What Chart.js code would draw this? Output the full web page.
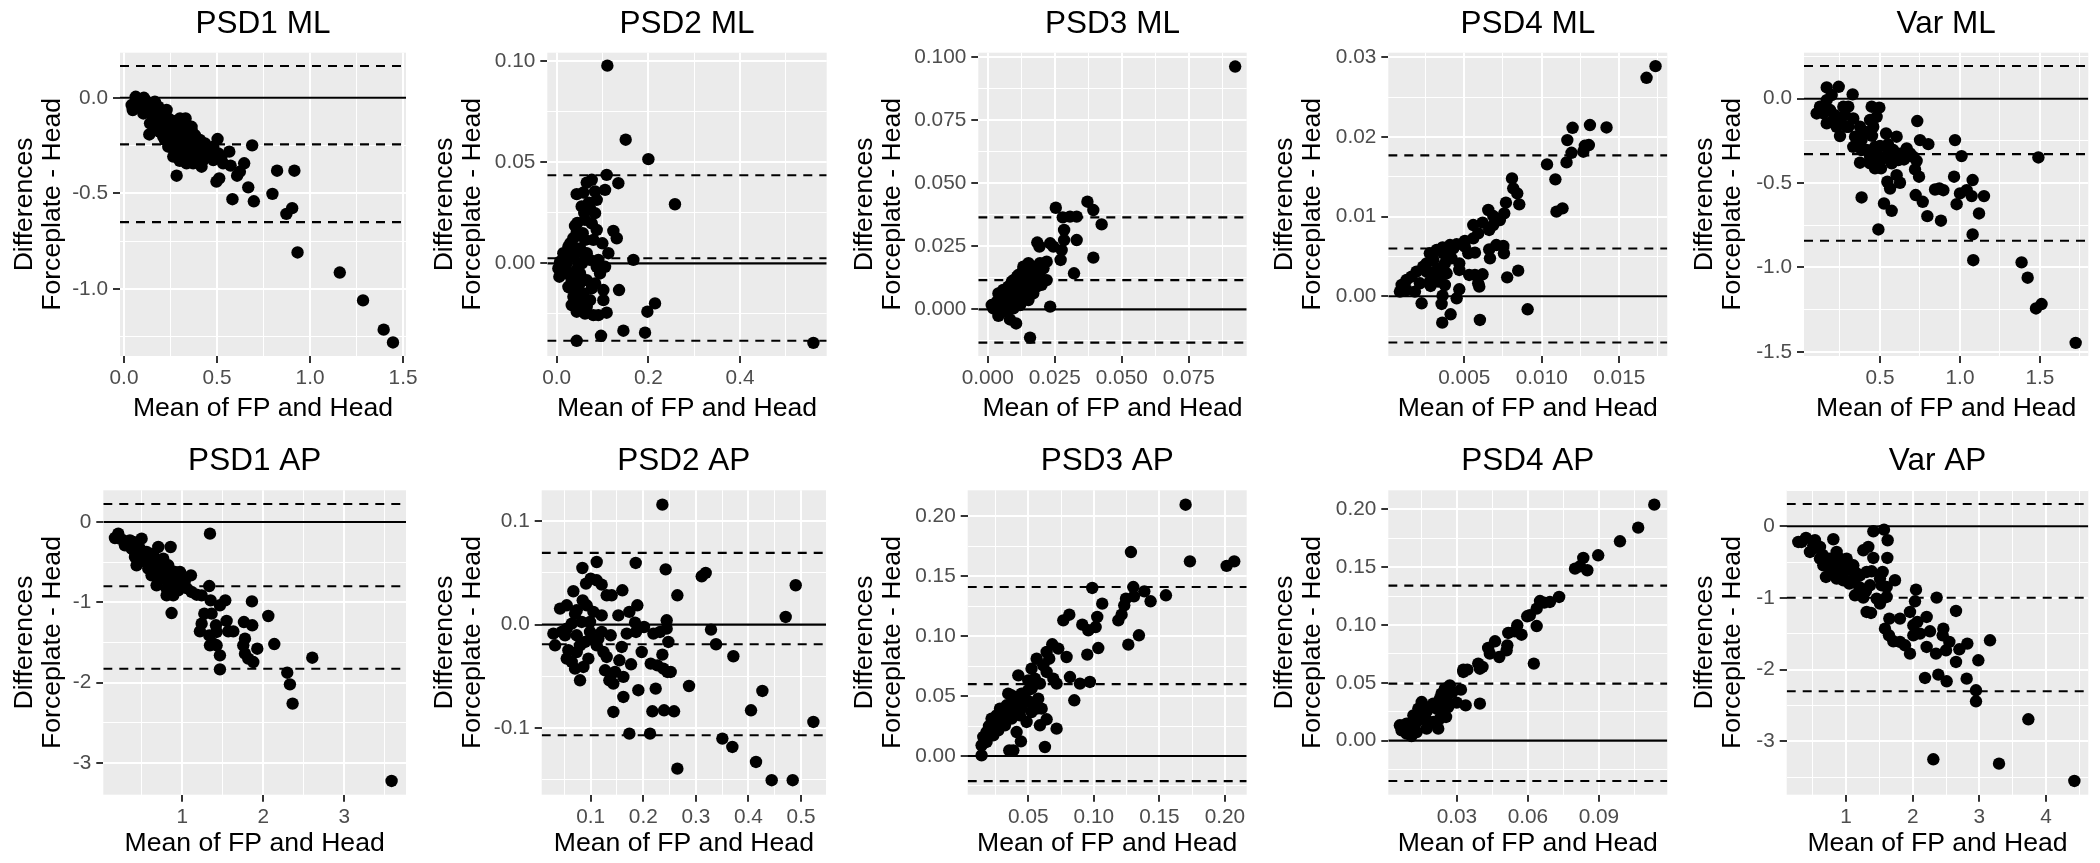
<!DOCTYPE html>
<html>
<head>
<meta charset="utf-8">
<script src="https://cdn.jsdelivr.net/npm/chart.js@4.4.0/dist/chart.umd.min.js"></script>
<style>
  body { margin: 0; background: #fff; width: 2100px; height: 863px; position: relative; overflow: hidden; }
  canvas { position: absolute; }
</style>
</head>
<body>
<script>
// ---- data: [mean of FP and Head, difference Forceplate - Head] ----
const psd1Ml = [[0.063,0.005],[0.107,0.000],[0.166,-0.021],[0.047,-0.064],[0.086,-0.047],[0.122,-0.064],[0.077,-0.021],[0.122,-0.021],[0.149,-0.056],[0.193,-0.091],[0.229,-0.064],[0.175,-0.117],[0.140,-0.134],[0.211,-0.125],[0.247,-0.152],[0.265,-0.178],[0.220,-0.221],[0.301,-0.108],[0.331,-0.108],[0.336,-0.160],[0.363,-0.169],[0.310,-0.195],[0.283,-0.221],[0.265,-0.308],[0.336,-0.256],[0.372,-0.221],[0.390,-0.256],[0.408,-0.291],[0.426,-0.326],[0.417,-0.361],[0.372,-0.343],[0.336,-0.343],[0.453,-0.274],[0.480,-0.256],[0.507,-0.291],[0.390,-0.308],[0.310,-0.308],[0.301,-0.282],[0.247,-0.256],[0.229,-0.186],[0.175,-0.169],[0.149,-0.091],[0.104,-0.082],[0.202,-0.073],[0.238,-0.108],[0.274,-0.143],[0.310,-0.160],[0.345,-0.195],[0.381,-0.195],[0.408,-0.221],[0.435,-0.239],[0.462,-0.300],[0.354,-0.291],[0.319,-0.256],[0.265,-0.239],[0.211,-0.204],[0.193,-0.178],[0.175,-0.143],[0.363,-0.152],[0.238,-0.256],[0.041,-0.038],[0.095,-0.038],[0.158,-0.082],[0.184,-0.047],[0.444,-0.308],[0.480,-0.326],[0.533,-0.343],[0.524,-0.308],[0.283,-0.256],[0.328,-0.221],[0.399,-0.274],[0.13,-0.03],[0.16,-0.05],[0.19,-0.10],[0.22,-0.14],[0.25,-0.18],[0.28,-0.19],[0.32,-0.23],[0.35,-0.24],[0.39,-0.23],[0.42,-0.26],[0.30,-0.33],[0.37,-0.29],[0.26,-0.12],[0.18,-0.08],[1.446,-1.281],[1.396,-1.214],[1.285,-1.061],[1.160,-0.915],[0.933,-0.810],[0.873,-0.608],[0.904,-0.578],[0.798,-0.503],[0.823,-0.382],[0.916,-0.382],[0.698,-0.542],[0.668,-0.469],[0.689,-0.249],[0.583,-0.531],[0.608,-0.408],[0.623,-0.387],[0.646,-0.343],[0.573,-0.355],[0.566,-0.282],[0.512,-0.422],[0.497,-0.439],[0.503,-0.216],[0.283,-0.408],[0.136,-0.192]];
const psd2Ml = [[0.1105,0.0977],[0.1505,0.0611],[0.200,0.0515],[0.258,0.0292],[0.560,-0.0393],[0.0436,-0.0383],[0.0967,-0.0358],[0.1455,-0.0333],[0.1927,-0.0343],[0.2145,-0.0198],[0.1978,-0.0239],[0.1673,0.0017],[0.136,-0.0132],[0.109,0.0437],[0.1345,0.0396],[0.1055,0.0363],[0.1236,0.016],[0.131,0.0124],[0.0996,0.0099],[0.1127,0.005],[0.1055,-0.0017],[0.1018,-0.0132],[0.1018,-0.0182],[0.109,-0.0244],[0.0909,-0.0256],[0.0655,0.0399],[0.0764,0.0413],[0.0436,0.0342],[0.0582,0.035],[0.0836,0.0355],[0.0873,0.0314],[0.0545,0.0281],[0.0727,0.0272],[0.0836,0.0248],[0.0618,0.0215],[0.04,0.0185],[0.0764,0.0198],[0.0873,0.0165],[0.0436,0.0149],[0.0618,0.0116],[0.0364,0.0124],[0.0255,0.0083],[0.0509,0.0074],[0.0655,0.005],[0.0145,0.005],[0.0073,0.0008],[0.0218,0],[0.0364,0.0033],[0.0473,0],[0.0727,0.0017],[0.0873,-0.0017],[0.0036,-0.0025],[0.0058,-0.0066],[0.0218,-0.005],[0.0327,-0.0083],[0.0509,-0.005],[0.0655,-0.0083],[0.0436,-0.0116],[0.0582,-0.0149],[0.0764,-0.0124],[0.0364,-0.0165],[0.0327,-0.0206],[0.0509,-0.0198],[0.0655,-0.0215],[0.0436,-0.0239],[0.0618,-0.0248],[0.08,-0.0256],[0.0545,-0.0165],[0.0255,0.0033],[0.0378,0.0074],[0.0567,0.0149],[0.08,0.0116],[0.0909,0.0017],[0.0436,-0.0033],[0.0145,-0.0017],[0.0582,0.005],[0.0727,-0.0182],[0.0255,-0.0116],[0.0836,-0.0099],[0.0945,-0.005],[0.03,0.01],[0.035,-0.005],[0.045,0.02],[0.05,-0.01],[0.04,-0.02],[0.06,0.025],[0.07,0.03],[0.028,-0.012],[0.055,0.0]];
const psd3Ml = [[0.0923,0.0963],[0.0372,0.0427],[0.0394,0.0394],[0.0425,0.0337],[0.0254,0.0403],[0.0332,0.0368],[0.0307,0.0368],[0.0280,0.0365],[0.0285,0.0315],[0.0332,0.0275],[0.0285,0.0275],[0.0276,0.0235],[0.0394,0.0205],[0.0322,0.0143],[0.0233,0.0011],[0.0272,0.0196],[0.0185,0.0265],[0.0193,0.0249],[0.0233,0.0262],[0.0245,0.0249],[0.0158,-0.0112],[0.0106,-0.0056],[0.0083,-0.004],[0.004,-0.0026],[0.0015,0.0017],[0.0034,0.003],[0.0052,0.0044],[0.0071,0.0063],[0.009,0.0083],[0.0108,0.0103],[0.0127,0.0123],[0.0146,0.0143],[0.0164,0.0169],[0.0195,0.0183],[0.022,0.0189],[0.0183,0.0156],[0.0208,0.0163],[0.0058,0.0011],[0.0083,0.003],[0.0102,0.0044],[0.0121,0.0057],[0.0146,0.0063],[0.017,0.0063],[0.0152,0.0037],[0.0121,0.0017],[0.0096,0.0004],[0.0071,-0.0009],[0.0046,-0.0003],[0.0021,0.0004],[0.0077,0.009],[0.0058,0.0077],[0.0096,0.0116],[0.0114,0.0136],[0.0139,0.009],[0.0164,0.0103],[0.0195,0.013],[0.0201,0.0097],[0.017,0.013],[0.0133,0.0169],[0.0152,0.0183],[0.0108,0.007],[0.0127,0.009],[0.009,0.005],[0.0065,0.003],[0.004,0.0063],[0.0133,0.0037],[0.0183,0.009],[0.022,0.0116],[0.006,0.005],[0.008,0.006],[0.010,0.008],[0.012,0.010],[0.014,0.012],[0.011,0.013],[0.009,0.011],[0.013,0.015],[0.016,0.014],[0.007,0.008]];
const psd4Ml = [[0.01734,0.02891],[0.01676,0.02745],[0.01418,0.02121],[0.01311,0.02151],[0.01199,0.02117],[0.01165,0.01962],[0.01192,0.01803],[0.0116,0.01682],[0.01268,0.01816],[0.01304,0.019],[0.01278,0.01891],[0.01134,0.01105],[0.01095,0.01063],[0.01088,0.01469],[0.01034,0.01657],[0.00808,0.01481],[0.00816,0.01356],[0.00842,0.01293],[0.00855,0.01155],[0.00769,0.01176],[0.00758,0.01042],[0.0073,0.00958],[0.00687,0.01008],[0.00655,0.01084],[0.00687,0.00895],[0.00661,0.00833],[0.00618,0.00925],[0.00558,0.00895],[0.0059,0.00791],[0.00558,0.00728],[0.00504,0.00695],[0.00451,0.00653],[0.00408,0.00644],[0.00386,0.00603],[0.0036,0.00615],[0.00322,0.00582],[0.00278,0.0054],[0.00365,0.0054],[0.00752,0.00632],[0.00707,0.00644],[0.00661,0.0059],[0.00756,0.0054],[0.00569,0.00548],[0.00504,0.00623],[0.00848,0.00322],[0.00777,0.00238],[0.00618,0.00276],[0.00569,0.00268],[0.0059,0.00163],[0.00597,0.00121],[0.00532,0.00268],[0.00468,0.00331],[0.00468,0.00414],[0.00418,0.00477],[0.00375,0.00414],[0.00332,0.00351],[0.003,0.00456],[0.00257,0.00414],[0.00235,0.00372],[0.00192,0.0031],[0.0016,0.00247],[0.00128,0.00205],[0.00096,0.00142],[0.00085,0.00059],[0.00128,0.00079],[0.00182,0.00059],[0.00214,0.00163],[0.00278,0.00184],[0.00332,0.00184],[0.00375,0.00142],[0.00343,0.00247],[0.00386,0.00289],[0.00468,0.00088],[0.00451,-0.00025],[0.0036,0.00008],[0.00354,-0.00096],[0.00225,-0.00088],[0.00412,-0.00226],[0.00358,-0.00331],[0.00601,-0.00297],[0.00909,-0.00163],[0.00283,0.0013],[0.00257,0.0031],[0.00311,0.0031],[0.00429,0.00603],[0.00526,0.0054],[0.00666,0.00477]];
const varMl = [[1.723,-1.447],[1.510,-1.217],[1.475,-1.243],[1.423,-1.061],[1.385,-0.970],[1.490,-0.348],[1.083,-0.957],[1.079,-0.804],[1.119,-0.680],[1.150,-0.577],[1.079,-0.482],[1.073,-0.577],[1.042,-0.542],[1.0,-0.561],[0.979,-0.625],[0.963,-0.462],[1.010,-0.340],[0.969,-0.245],[0.881,-0.723],[0.896,-0.542],[0.871,-0.532],[0.844,-0.538],[0.796,-0.696],[0.767,-0.611],[0.723,-0.571],[0.744,-0.462],[0.719,-0.419],[0.729,-0.368],[0.708,-0.344],[0.802,-0.269],[0.75,-0.245],[0.733,-0.132],[0.490,-0.775],[0.573,-0.664],[0.525,-0.621],[0.385,-0.585],[0.506,-0.413],[0.546,-0.492],[0.563,-0.532],[0.604,-0.453],[0.625,-0.498],[0.635,-0.324],[0.667,-0.294],[0.688,-0.324],[0.604,-0.225],[0.583,-0.304],[0.552,-0.324],[0.531,-0.344],[0.538,-0.206],[0.469,-0.285],[0.438,-0.344],[0.375,-0.379],[0.438,-0.383],[0.417,-0.304],[0.385,-0.245],[0.354,-0.265],[0.344,-0.225],[0.375,-0.166],[0.406,-0.196],[0.438,-0.126],[0.458,-0.166],[0.479,-0.107],[0.496,-0.053],[0.448,-0.047],[0.333,-0.117],[0.302,-0.047],[0.329,0.026],[0.271,-0.047],[0.281,-0.097],[0.250,-0.221],[0.292,-0.166],[0.229,-0.166],[0.242,0.071],[0.167,0.067],[0.167,-0.008],[0.188,-0.067],[0.219,-0.097],[0.198,0.022],[0.125,-0.047],[0.104,-0.087],[0.146,-0.087],[0.167,-0.146],[0.208,-0.126],[0.25,-0.126],[0.302,-0.166],[0.333,-0.285],[0.385,-0.304],[0.573,-0.383],[0.615,-0.364],[0.506,-0.364],[0.469,-0.413],[0.45,-0.22],[0.5,-0.28],[0.55,-0.27],[0.6,-0.33],[0.65,-0.36],[0.48,-0.33]];
const psd1Ap = [[3.584,-3.224],[2.605,-1.689],[2.362,-2.261],[2.329,-2.021],[2.296,-1.876],[2.136,-1.519],[2.062,-1.170],[1.860,-0.988],[1.926,-1.577],[1.877,-1.743],[1.815,-1.701],[1.774,-1.639],[1.753,-1.535],[1.774,-1.452],[1.761,-1.245],[1.864,-1.286],[1.630,-1.361],[1.568,-1.361],[1.547,-1.232],[1.531,-0.975],[1.465,-1.037],[1.465,-1.660],[1.465,-1.834],[1.424,-1.535],[1.424,-1.369],[1.416,-1.286],[1.383,-1.515],[1.342,-1.535],[1.333,-1.411],[1.362,-1.141],[1.350,-0.975],[1.333,-0.797],[1.272,-1.141],[1.239,-1.266],[1.218,-1.361],[1.342,-0.145],[1.239,-0.913],[1.177,-0.905],[1.107,-0.664],[1.115,-0.871],[1.053,-0.822],[0.992,-0.768],[0.868,-1.133],[0.856,-0.311],[0.971,-0.622],[0.930,-0.705],[0.889,-0.913],[0.807,-0.830],[0.848,-0.622],[0.827,-0.539],[0.765,-0.456],[0.724,-0.539],[0.724,-0.705],[0.663,-0.622],[0.683,-0.788],[0.765,-0.705],[0.704,-0.311],[0.621,-0.498],[0.560,-0.456],[0.642,-0.394],[0.560,-0.373],[0.498,-0.207],[0.477,-0.332],[0.436,-0.539],[0.416,-0.436],[0.374,-0.332],[0.333,-0.270],[0.272,-0.228],[0.210,-0.145],[0.169,-0.199],[0.230,-0.207],[0.292,-0.290],[0.354,-0.228],[0.395,-0.249],[0.477,-0.436],[0.580,-0.581],[0.807,-0.664],[0.909,-0.622],[0.848,-0.788],[0.951,-0.788],[1.033,-0.726],[0.621,-0.664],[0.786,-0.539],[0.807,-0.913],[0.5,-0.40],[0.6,-0.55],[0.7,-0.60],[0.8,-0.70],[0.9,-0.75],[0.55,-0.50],[0.65,-0.48],[0.75,-0.62],[0.85,-0.68],[0.95,-0.85],[0.40,-0.35],[0.30,-0.25]];
const psd2Ap = [[0.2363,0.1161],[0.5235,-0.0942],[0.4842,-0.1506],[0.4442,-0.1506],[0.4144,-0.1329],[0.4049,-0.0829],[0.4265,-0.0642],[0.4708,0.0074],[0.4899,0.0381],[0.3694,-0.1184],[0.3504,-0.1103],[0.3713,-0.0306],[0.3384,-0.019],[0.3288,-0.0048],[0.3111,0.0468],[0.3187,0.05],[0.287,-0.0594],[0.2648,-0.1394],[0.2648,0.0284],[0.2426,0.0535],[0.2585,-0.0839],[0.2395,-0.0829],[0.2173,-0.0839],[0.2236,-0.0619],[0.2128,-0.1055],[0.2458,-0.0458],[0.2521,-0.0458],[0.2382,-0.0426],[0.2268,-0.0394],[0.2141,-0.0377],[0.2363,-0.029],[0.2477,-0.0168],[0.2445,-0.0039],[0.2445,0.0042],[0.2319,-0.0071],[0.2192,-0.0087],[0.197,-0.0265],[0.1906,-0.0635],[0.1856,0.0597],[0.1887,0.0187],[0.1843,0.0019],[0.2014,-0.0023],[0.1862,-0.0071],[0.1735,0.0123],[0.1767,-0.0384],[0.1735,-0.1055],[0.1621,-0.07],[0.1621,-0.0506],[0.159,-0.0216],[0.1685,-0.0087],[0.1602,0.0332],[0.1526,0.009],[0.1431,-0.0845],[0.1431,-0.0571],[0.1355,-0.0539],[0.1273,-0.0442],[0.1241,-0.0265],[0.1304,-0.0313],[0.138,-0.0103],[0.1399,0.0284],[0.1304,0.0284],[0.1209,0.0387],[0.1114,0.0429],[0.1114,0.0606],[0.1,0.0445],[0.0911,0.0397],[0.0842,0.0548],[0.0848,0.0235],[0.0734,0.0139],[0.067,0.0323],[0.0544,0.0187],[0.0417,0.0155],[0.029,-0.0087],[0.0322,-0.02],[0.0449,-0.0071],[0.0544,-0.0039],[0.0639,0.001],[0.0702,0.0106],[0.0924,0.0187],[0.1051,0.0123],[0.0987,-0.0071],[0.1019,-0.0135],[0.0892,-0.0168],[0.0797,-0.02],[0.0734,-0.0265],[0.0639,-0.0361],[0.0702,-0.0426],[0.0797,-0.0539],[0.0861,-0.041],[0.0956,-0.0329],[0.1114,-0.02],[0.1146,-0.0135],[0.1209,-0.0071],[0.0575,-0.0248],[0.0512,-0.0103],[0.0734,-0.0103],[0.0829,0.0026],[0.0987,0.0026],[0.1209,0.009],[0.0544,-0.0329],[0.1545,-0.0345],[0.1463,-0.0458]];
const psd3Ap = [[0.17,0.2097],[0.1283,0.1702],[0.1733,0.1624],[0.2013,0.1586],[0.2071,0.1624],[0.1301,0.141],[0.1306,0.1332],[0.1385,0.1374],[0.1433,0.1291],[0.155,0.1341],[0.1245,0.1313],[0.1232,0.1257],[0.1212,0.1179],[0.1187,0.1132],[0.1344,0.1007],[0.1263,0.0929],[0.0988,0.1402],[0.1064,0.1271],[0.1026,0.116],[0.1014,0.1076],[0.0958,0.1049],[0.0912,0.1096],[0.1034,0.0901],[0.095,0.0846],[0.097,0.0618],[0.0894,0.0604],[0.0851,0.0465],[0.0813,0.1179],[0.0767,0.1132],[0.0792,0.0826],[0.0729,0.0896],[0.0683,0.0932],[0.066,0.0812],[0.0818,0.0659],[0.0716,0.0604],[0.0716,0.0228],[0.064,0.0306],[0.0627,0.0075],[0.0589,0.0256],[0.0602,0.0395],[0.0691,0.0645],[0.064,0.0701],[0.0614,0.0757],[0.0564,0.0812],[0.0551,0.0645],[0.0525,0.0562],[0.05,0.0631],[0.0576,0.0478],[0.0564,0.0395],[0.0525,0.0367],[0.0487,0.0284],[0.0424,0.0673],[0.0449,0.052],[0.0411,0.0478],[0.0373,0.0506],[0.0347,0.052],[0.0335,0.0423],[0.0386,0.0395],[0.0449,0.0423],[0.0436,0.0339],[0.0373,0.0312],[0.0309,0.0312],[0.0284,0.0395],[0.0258,0.0339],[0.0233,0.0284],[0.0208,0.0228],[0.0182,0.02],[0.0157,0.0159],[0.0144,0.0089],[0.0144,0.0006],[0.0182,0.0117],[0.0233,0.0172],[0.0271,0.0214],[0.0322,0.0256],[0.0258,0.0256],[0.0411,0.02],[0.0444,0.0122],[0.0355,0.0047],[0.0386,0.0047],[0.022,0.0312],[0.036,0.0367],[0.0475,0.0478],[0.0513,0.0451],[0.0589,0.0604],[0.0525,0.0729],[0.064,0.0868],[0.03,0.035],[0.035,0.04],[0.04,0.045],[0.045,0.05],[0.05,0.055],[0.055,0.06],[0.045,0.04],[0.04,0.035],[0.02,0.025],[0.025,0.03]];
const psd4Ap = [[0.1134,0.204],[0.1066,0.1841],[0.0989,0.1723],[0.0897,0.1602],[0.0834,0.1579],[0.0851,0.1473],[0.082,0.1507],[0.0799,0.1487],[0.0732,0.1242],[0.0693,0.1199],[0.0669,0.1193],[0.0651,0.1207],[0.0637,0.1141],[0.0608,0.1084],[0.0597,0.1075],[0.0637,0.0991],[0.0625,0.0666],[0.0573,0.0916],[0.0555,0.0997],[0.0545,0.0945],[0.0517,0.0931],[0.0513,0.0824],[0.051,0.0781],[0.0461,0.0859],[0.0479,0.0723],[0.0439,0.0752],[0.0432,0.0801],[0.039,0.0666],[0.0397,0.0622],[0.0408,0.0637],[0.0344,0.0614],[0.0327,0.0614],[0.0327,0.0594],[0.0317,0.0441],[0.0337,0.0305],[0.0299,0.0329],[0.0397,0.032],[0.027,0.0478],[0.0282,0.0421],[0.0256,0.0363],[0.0249,0.045],[0.0235,0.0406],[0.0228,0.0363],[0.0254,0.0205],[0.0221,0.0104],[0.02,0.032],[0.0186,0.0291],[0.0214,0.0277],[0.0172,0.0254],[0.0158,0.0225],[0.0144,0.019],[0.0172,0.0176],[0.013,0.0161],[0.0116,0.0138],[0.0094,0.0104],[0.0073,0.011],[0.0066,0.0089],[0.0087,0.0061],[0.0108,0.004],[0.013,0.0075],[0.0172,0.0104],[0.02,0.0161],[0.0228,0.019],[0.0242,0.0277],[0.0263,0.0291],[0.0151,0.0334],[0.0137,0.0277],[0.0116,0.0219],[0.0087,0.0147],[0.0059,0.0133]];
const varAp = [[4.425,-3.553],[3.735,-2.693],[3.295,-3.312],[2.31,-3.251],[3.16,-1.591],[2.985,-1.870],[2.95,-2.288],[2.95,-2.442],[2.81,-2.126],[2.82,-1.637],[2.70,-1.716],[2.65,-1.893],[2.65,-1.181],[2.50,-1.730],[2.55,-1.614],[2.46,-1.428],[2.45,-1.521],[2.51,-2.163],[2.385,-2.070],[2.35,-1.777],[2.36,-0.995],[2.21,-1.684],[2.26,-1.465],[2.21,-1.265],[2.185,-2.116],[2.11,-1.498],[2.05,-0.884],[2.035,-1.047],[2.07,-1.335],[1.96,-1.195],[2.01,-1.381],[2.01,-1.521],[1.96,-1.777],[1.885,-1.660],[1.81,-1.614],[1.81,-1.288],[1.71,-1.605],[1.645,-1.521],[1.585,-1.428],[1.65,-1.288],[1.735,-0.753],[1.62,-0.442],[1.625,-0.195],[1.57,-0.047],[1.41,-0.070],[1.55,-0.637],[1.535,-0.823],[1.46,-1.009],[1.51,-1.079],[1.61,-0.986],[1.41,-0.442],[1.335,-0.288],[1.26,-0.335],[1.385,-0.628],[1.36,-0.823],[1.31,-1.195],[1.375,-1.209],[1.26,-0.995],[1.21,-0.916],[1.135,-0.730],[1.11,-0.544],[1.035,-0.591],[0.96,-0.753],[0.86,-0.730],[0.81,-0.544],[0.76,-0.451],[0.81,-0.181],[0.70,-0.707],[0.66,-0.544],[0.61,-0.451],[0.535,-0.195],[0.46,-0.358],[0.40,-0.163],[0.335,-0.219],[0.285,-0.219],[0.61,-0.288],[0.91,-0.451],[1.01,-0.451],[1.21,-0.684],[1.31,-0.637],[1.135,-0.963],[0.91,-0.637],[0.785,-0.591],[0.86,-0.358],[0.71,-0.498],[0.51,-0.265],[1.61,-0.847],[1.51,-0.730],[0.7,-0.55],[0.8,-0.62],[0.9,-0.70],[1.0,-0.62],[1.1,-0.75],[1.2,-0.85],[0.95,-0.55],[1.05,-0.80],[0.65,-0.40],[0.55,-0.30],[1.3,-0.90],[1.15,-0.65]];

// limits of agreement: [upper, mean difference, lower]
const psd1MlLoa = [0.166, -0.244, -0.651];
const psd2MlLoa = [0.0435, 0.0025, -0.0383];
const psd3MlLoa = [0.0365, 0.0116, -0.0132];
const psd4MlLoa = [0.0177, 0.0060, -0.0058];
const varMlLoa = [0.194, -0.328, -0.842];
const psd1ApLoa = [0.224, -0.800, -1.827];
const psd2ApLoa = [0.0694, -0.019, -0.107];
const psd3ApLoa = [0.141, 0.060, -0.021];
const psd4ApLoa = [0.134, 0.0493, -0.0348];
const varApLoa = [0.311, -0.997, -2.302];

// tick labels
const xTickLabels = [
  ['0.0','0.5','1.0','1.5'], ['0.0','0.2','0.4'], ['0.000','0.025','0.050','0.075'], ['0.005','0.010','0.015'], ['0.5','1.0','1.5'],
  ['1','2','3'], ['0.1','0.2','0.3','0.4','0.5'], ['0.05','0.10','0.15','0.20'], ['0.03','0.06','0.09'], ['1','2','3','4']
];
const yTickLabels = [
  ['-1.0','-0.5','0.0'], ['0.00','0.05','0.10'], ['0.000','0.025','0.050','0.075','0.100'], ['0.00','0.01','0.02','0.03'], ['-1.5','-1.0','-0.5','0.0'],
  ['-3','-2','-1','0'], ['-0.1','0.0','0.1'], ['0.00','0.05','0.10','0.15','0.20'], ['0.00','0.05','0.10','0.15','0.20'], ['-3','-2','-1','0']
];

const titles = ['PSD1 ML','PSD2 ML','PSD3 ML','PSD4 ML','Var ML','PSD1 AP','PSD2 AP','PSD3 AP','PSD4 AP','Var AP'];
const points = [psd1Ml, psd2Ml, psd3Ml, psd4Ml, varMl, psd1Ap, psd2Ap, psd3Ap, psd4Ap, varAp];
const loas = [psd1MlLoa, psd2MlLoa, psd3MlLoa, psd4MlLoa, varMlLoa, psd1ApLoa, psd2ApLoa, psd3ApLoa, psd4ApLoa, varApLoa];

// axis ranges [xmin, xmax, ymin, ymax]
const ranges = [
  [-0.0215, 1.516, -1.352, 0.236], [-0.0205, 0.589, -0.0458, 0.1041], [-0.0035, 0.0966, -0.0185, 0.1018], [0.0001, 0.0181, -0.0075, 0.0306], [0.025, 1.802, -1.525, 0.273],
  [0.025, 3.762, -3.395, 0.395], [0.0068, 0.5475, -0.1646, 0.130], [0.0038, 0.2166, -0.0323, 0.2217], [0.001, 0.1189, -0.0467, 0.2164], [0.111, 4.634, -3.745, 0.502]
];

// ---- layout (page pixels) ----
const FONT = "'Liberation Sans', Arial, Helvetica, sans-serif";
const CW = 420, CH = 432;
const colLeft = [0, 420, 840, 1260, 1680];
const rowBox = [
  {top: 0, plotTop: 52.7, plotBottom: 356, titleMid: 24, xTitleMid: 408.7},
  {top: 437, plotTop: 490.3, plotBottom: 794.7, titleMid: 461, xTitleMid: 843.3}
];
const plotX = [[120, 406], [547.3, 826.7], [978.3, 1246.7], [1388.3, 1667.3], [1804, 2088.3],
               [103.3, 406], [541.7, 826], [967.7, 1246.7], [1388.3, 1667.3], [1786.7, 2088.3]];

const panelBg = {
  id: 'panelBg',
  beforeDraw(chart) {
    const {ctx, chartArea: a} = chart;
    ctx.save();
    ctx.fillStyle = '#EBEBEB';
    ctx.fillRect(a.left, a.top, a.right - a.left, a.bottom - a.top);
    ctx.restore();
  }
};

function tickList(labels, lo, hi) {
  const major = labels.map(Number);
  const step = major[1] - major[0];
  const out = major.map((m, i) => ({value: m, lab: labels[i], maj: true}));
  let v = major[0] - step / 2;
  while (v - step >= lo) v -= step;
  for (; v <= hi; v += step) if (v >= lo) out.push({value: v, lab: '', maj: false});
  return out.sort((a, b) => a.value - b.value);
}

function axisGrid() {
  return {
    color: '#FFFFFF',
    lineWidth: c => (c.tick && c.tick.maj) ? 2 : 1,
    drawTicks: true,
    tickLength: 7,
    tickWidth: 2,
    tickColor: c => (c.tick && c.tick.maj) ? '#333333' : 'rgba(0,0,0,0)'
  };
}

titles.forEach((title, i) => {
  const row = rowBox[i < 5 ? 0 : 1];
  const left = colLeft[i % 5];
  const [xmin, xmax, ymin, ymax] = ranges[i];
  const yAxisW = plotX[i][0] - left;
  const padRight = left + CW - plotX[i][1];
  const xAxisH = row.top + CH - row.plotBottom;
  const titleTop = row.titleMid - row.top - 18.9;
  const titleBottom = row.plotTop - row.top - 37.8 - titleTop;
  const xTitlePad = CH - 16 - (row.xTitleMid - row.top);

  const cv = document.createElement('canvas');
  cv.width = CW; cv.height = CH;
  cv.style.left = left + 'px';
  cv.style.top = row.top + 'px';
  document.body.appendChild(cv);

  const lineSets = [0].concat(loas[i]).map((v, k) => ({
    type: 'line',
    data: [{x: xmin, y: v}, {x: xmax, y: v}],
    borderColor: '#000000',
    borderWidth: 2.1,
    borderDash: k === 0 ? [] : [9, 7],
    pointRadius: 0,
    showLine: true,
    fill: false,
    order: 1
  }));

  new Chart(cv.getContext('2d'), {
    type: 'scatter',
    data: {
      datasets: [{
        data: points[i].map(p => ({x: p[0], y: p[1]})),
        pointRadius: 6.2,
        pointBackgroundColor: '#000000',
        pointBorderWidth: 0,
        order: 2
      }].concat(lineSets)
    },
    options: {
      responsive: false,
      animation: false,
      events: [],
      layout: {padding: {left: 0, top: 0, bottom: 0, right: padRight}},
      plugins: {
        legend: {display: false},
        tooltip: {enabled: false},
        title: {
          display: true, text: title, fullSize: false, color: '#000000',
          font: {family: FONT, size: 31.5, weight: 'normal', lineHeight: 1.2},
          padding: {top: titleTop, bottom: titleBottom}
        }
      },
      scales: {
        x: {
          type: 'linear', min: xmin, max: xmax,
          afterBuildTicks: s => { s.ticks = tickList(xTickLabels[i], xmin, xmax); },
          afterFit: s => { s.height = xAxisH; s.paddingLeft = 0; s.paddingRight = 0; },
          ticks: {
            autoSkip: false, maxRotation: 0, padding: 3, color: '#4D4D4D',
            font: {family: FONT, size: 20.8},
            callback: (v, k, t) => t[k].lab
          },
          grid: axisGrid(),
          border: {display: false},
          title: {
            display: true, text: 'Mean of FP and Head', color: '#000000',
            font: {family: FONT, size: 26.6, lineHeight: 1.2},
            padding: {top: 0, bottom: xTitlePad}
          }
        },
        y: {
          type: 'linear', min: ymin, max: ymax,
          afterBuildTicks: s => { s.ticks = tickList(yTickLabels[i], ymin, ymax); },
          afterFit: s => { s.width = yAxisW; s.paddingTop = 0; s.paddingBottom = 0; },
          ticks: {
            autoSkip: false, padding: 5, color: '#4D4D4D',
            font: {family: FONT, size: 20.8},
            callback: (v, k, t) => t[k].lab
          },
          grid: axisGrid(),
          border: {display: false},
          title: {
            display: true, text: ['Differences', 'Forceplate - Head'], color: '#000000',
            font: {family: FONT, size: 26.6, lineHeight: 1.05},
            padding: {top: 11, bottom: 0}
          }
        }
      }
    },
    plugins: [panelBg]
  });
});
</script>
</body>
</html>
